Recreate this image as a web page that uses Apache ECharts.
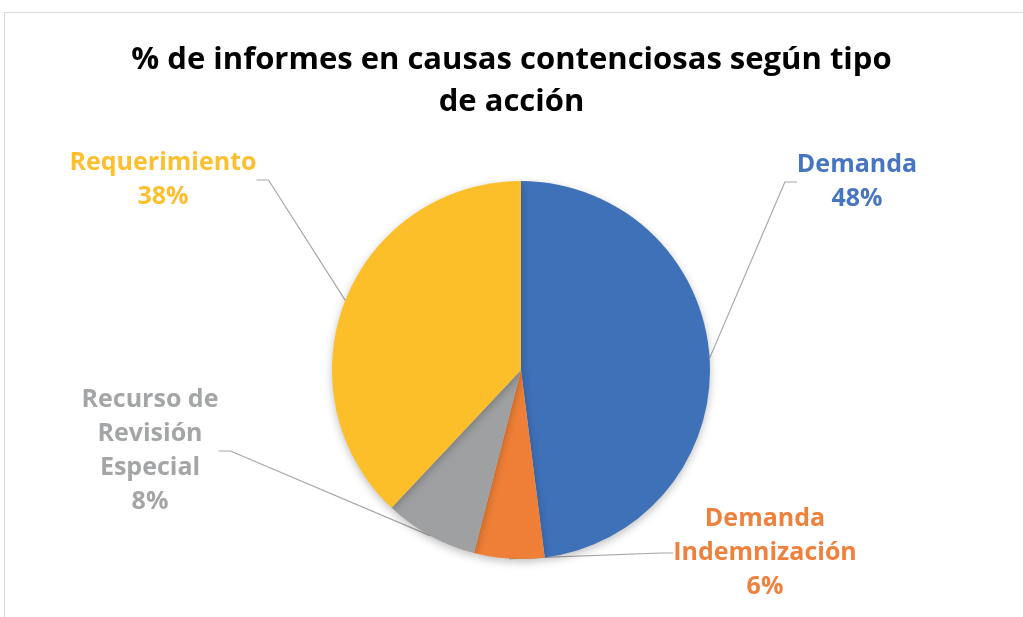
<!DOCTYPE html>
<html>
<head>
<meta charset="utf-8">
<script src="https://cdn.jsdelivr.net/npm/echarts@6/dist/echarts.min.js"></script>
<style>
  html, body { margin: 0; padding: 0; background: #fff; }
  #frame { position: absolute; left: 4px; top: 12px; width: 1030px; height: 620px;
           border-left: 1px solid #d9d9d9; border-top: 1px solid #d9d9d9; }
  #chart { position: absolute; left: 0; top: 0; width: 1023px; height: 617px; }
</style>
</head>
<body>
<div id="frame"></div>
<div id="chart"></div>
<script>
const titleText = '% de informes en causas contenciosas según tipo\nde acción'
const categories = ['Demanda', 'Demanda\nIndemnización', 'Recurso de\nRevisión\nEspecial', 'Requerimiento']
const values = [48, 6, 8, 38]
const colors = ['#3f71b9', '#ef7f36', '#9ea0a1', '#fcbf29']
const labelColors = ['#4775c0', '#f0813c', '#a3a5a6', '#fcbf2e']

// where each label block sits (center point)
const labelSpots = [
  { x: 857, y: 182 },
  { x: 765, y: 553 },
  { x: 150, y: 451 },
  { x: 163, y: 180 }
]

const chart = echarts.init(document.getElementById('chart'))

chart.setOption({
  animation: false,
  title: {
    text: titleText,
    left: 'center',
    top: 34,
    textStyle: {
      fontFamily: 'Open Sans',
      fontWeight: 'bold',
      fontSize: 31,
      lineHeight: 42,
      color: '#000'
    }
  },
  series: [{
    type: 'pie',
    center: [521, 370],
    radius: 189,
    startAngle: 90,
    clockwise: true,
    data: categories.map((name, i) => ({
      name: name,
      value: values[i],
      itemStyle: { color: colors[i] },
      label: { color: labelColors[i] }
    })),
    itemStyle: {
      borderWidth: 0,
      shadowBlur: 8,
      shadowOffsetY: 3,
      shadowColor: 'rgba(0,0,0,0.25)'
    },
    label: {
      show: true,
      formatter: '{b}\n{c}%',
      fontFamily: 'Open Sans',
      fontWeight: 'bold',
      fontSize: 25,
      lineHeight: 34,
      align: 'center'
    },
    labelLine: {
      show: true,
      length: 20,
      length2: 12,
      lineStyle: { color: '#a6a6a6', width: 1.2 }
    },
    labelLayout(params) {
      const p = labelSpots[params.dataIndex]
      return { x: p.x, y: p.y, align: 'center', verticalAlign: 'middle' }
    }
  }]
})
</script>
</body>
</html>
